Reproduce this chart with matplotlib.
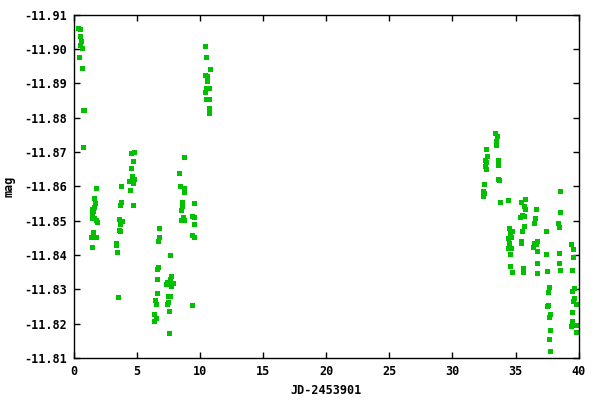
import matplotlib
matplotlib.use("Agg")
import matplotlib.pyplot as plt
from matplotlib.ticker import MultipleLocator, FormatStrFormatter

jd = [
    # night block 1
    0.36, 0.49, 0.54, 0.62, 0.51, 0.65, 0.46, 0.70, 0.73, 0.81, 0.78,
    1.81, 1.65, 1.73, 1.62, 1.49, 1.54, 1.44, 1.46, 1.65, 1.76, 1.84,
    1.57, 1.41, 1.68, 1.78, 1.49,
    # block 2
    4.58, 4.81, 4.73, 4.53, 4.66, 4.81, 4.37, 4.73, 3.78, 4.50, 3.78,
    3.71, 4.73, 3.63, 3.82, 3.71, 3.60, 3.71, 3.39, 3.39, 3.47, 3.55,
    # block 3
    8.77, 8.38, 8.46, 8.77, 8.77, 8.61, 9.56, 8.61, 8.54, 9.41, 9.52,
    8.69, 8.51, 8.77, 9.56, 6.79, 9.41, 9.52, 6.79, 6.71, 7.66, 6.71,
    6.64, 7.74, 6.64, 7.66, 7.43, 7.74, 7.90, 7.35, 7.74, 6.64, 7.51,
    7.66, 6.48, 7.51, 6.56, 7.43, 9.41, 7.59, 6.40, 6.56, 6.40, 7.59,
    # block 4
    10.44, 10.51, 10.83, 10.44, 10.59, 10.59, 10.51, 10.70, 10.44,
    10.70, 10.51, 10.75, 10.75,
    # block 5
    33.40, 33.56, 33.48, 33.48, 32.68, 32.76, 32.60, 33.63, 32.68,
    32.60, 33.63, 32.68, 33.63, 33.71, 32.53, 32.45, 32.53, 32.45, 33.79,
    # block 6
    34.43, 35.46, 35.77, 35.69, 35.77, 36.64, 38.54, 38.54, 35.53,
    35.38, 35.69, 36.56, 36.48, 38.38, 38.46, 35.69, 34.51, 35.53,
    34.74, 34.58, 37.43, 34.66, 34.43, 34.51, 35.46, 35.46, 36.72,
    36.48, 36.64, 39.41, 34.43, 34.66, 36.41, 39.57, 34.58, 36.72,
    37.43, 38.46, 39.57, 36.72, 38.46, 34.58, 35.61, 37.51, 39.49,
    38.54, 34.74, 35.61, 36.72, 37.67, 37.59, 39.65, 39.49, 39.65,
    39.57, 39.76, 37.59, 37.51, 37.75, 37.67, 39.49, 39.49, 39.41,
    39.76, 37.75, 39.76, 37.67, 37.75,
]

mag = [
    -11.9061, -11.9058, -11.9038, -11.9024, -11.9011, -11.9002, -11.8976,
    -11.8944, -11.8822, -11.8822, -11.8715,
    -11.8594, -11.8565, -11.8553, -11.8541, -11.8533, -11.8528, -11.8521,
    -11.8507, -11.8507, -11.8502, -11.8495, -11.8468, -11.8454, -11.8454,
    -11.8454, -11.8422,
    -11.8696, -11.8699, -11.8673, -11.8653, -11.8630, -11.8621, -11.8615,
    -11.8609, -11.8600, -11.8589, -11.8554, -11.8545, -11.8545, -11.8504,
    -11.8498, -11.8489, -11.8473, -11.8469, -11.8434, -11.8428, -11.8408,
    -11.8277,
    -11.8685, -11.8638, -11.8600, -11.8596, -11.8583, -11.8554, -11.8551,
    -11.8544, -11.8531, -11.8514, -11.8510, -11.8512, -11.8502, -11.8502,
    -11.8489, -11.8478, -11.8457, -11.8452, -11.8452, -11.8440, -11.8399,
    -11.8364, -11.8358, -11.8340, -11.8329, -11.8329, -11.8322, -11.8319,
    -11.8318, -11.8315, -11.8311, -11.8288, -11.8280, -11.8280, -11.8268,
    -11.8262, -11.8256, -11.8256, -11.8253, -11.8236, -11.8227, -11.8216,
    -11.8207, -11.8172,
    -11.9008, -11.8976, -11.8941, -11.8926, -11.8921, -11.8907, -11.8886,
    -11.8886, -11.8874, -11.8856, -11.8854, -11.8827, -11.8813,
    -11.8755, -11.8746, -11.8731, -11.8720, -11.8708, -11.8688, -11.8676,
    -11.8676, -11.8670, -11.8658, -11.8661, -11.8650, -11.8623, -11.8619,
    -11.8606, -11.8588, -11.8580, -11.8571, -11.8556,
    -11.8559, -11.8556, -11.8562, -11.8542, -11.8533, -11.8533, -11.8588,
    -11.8524, -11.8516, -11.8510, -11.8513, -11.8507, -11.8492, -11.8492,
    -11.8481, -11.8484, -11.8478, -11.8469, -11.8469, -11.8463, -11.8469,
    -11.8454, -11.8449, -11.8434, -11.8440, -11.8434, -11.8440, -11.8434,
    -11.8431, -11.8431, -11.8420, -11.8420, -11.8422, -11.8417, -11.8402,
    -11.8411, -11.8402, -11.8405, -11.8393, -11.8376, -11.8376, -11.8367,
    -11.8361, -11.8353, -11.8355, -11.8355, -11.8350, -11.8350, -11.8347,
    -11.8306, -11.8291, -11.8303, -11.8294, -11.8274, -11.8265, -11.8256,
    -11.8253, -11.8251, -11.8227, -11.8219, -11.8233, -11.8207, -11.8192,
    -11.8195, -11.8181, -11.8175, -11.8154, -11.8120,
]

plt.rcParams["font.family"] = "DejaVu Sans Mono"
plt.rcParams["font.weight"] = "bold"
plt.rcParams["axes.unicode_minus"] = False

fig = plt.figure(figsize=(6, 4), dpi=100)
ax = fig.add_axes([0.1225, 0.105, 0.842, 0.858])

ax.plot(jd, mag, linestyle="none", marker="s", markersize=3.6,
        markerfacecolor="#00c000", markeredgewidth=0)

ax.set_xlim(0, 40)
ax.set_ylim(-11.81, -11.91)
ax.xaxis.set_major_locator(MultipleLocator(5))
ax.yaxis.set_major_locator(MultipleLocator(0.01))
ax.yaxis.set_major_formatter(FormatStrFormatter("%.2f"))

ax.tick_params(direction="in", length=4, width=1, top=True, right=True,
               labelsize=8.5, pad=5)
for s in ax.spines.values():
    s.set_linewidth(1)

ax.set_xlabel("JD-2453901", fontsize=8.5, fontweight="bold", labelpad=4)
ax.set_ylabel("mag", fontsize=8.5, fontweight="bold", labelpad=6)

fig.savefig("out.png", dpi=100)
